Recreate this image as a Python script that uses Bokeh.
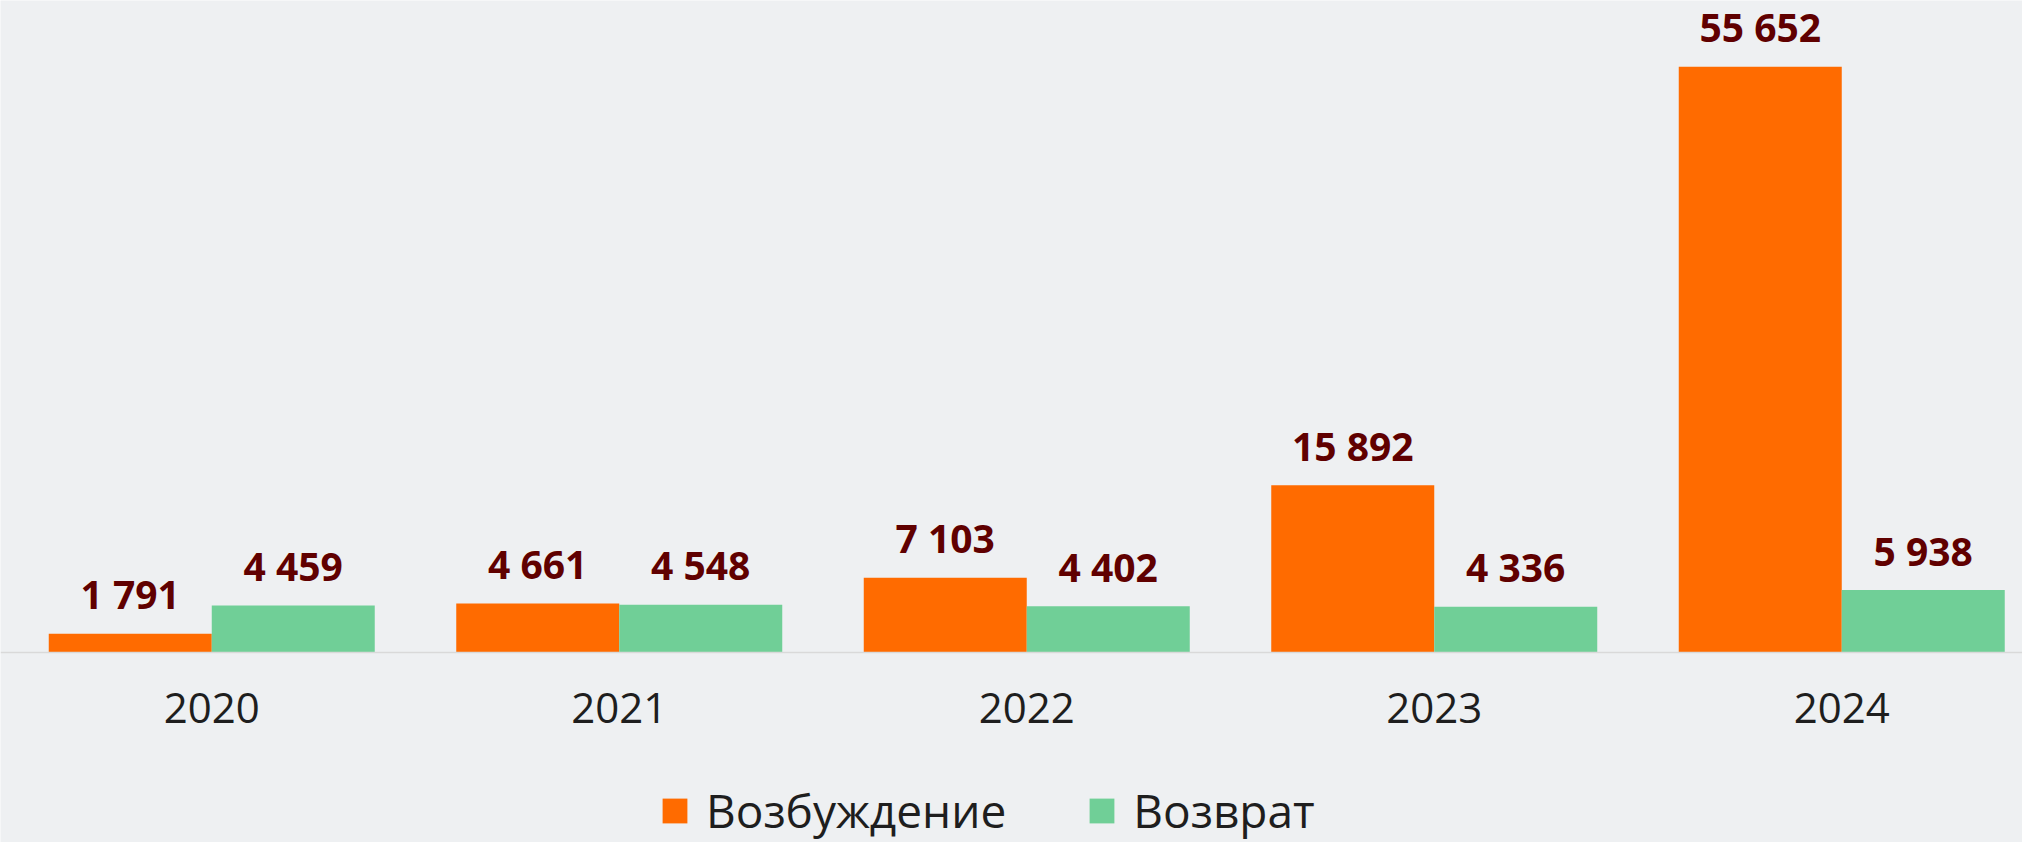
from bokeh.plotting import figure
from bokeh.models import ColumnDataSource, Range1d, FixedTicker, Legend, LegendItem
from bokeh.core.properties import value
from bokeh.embed import file_html
from bokeh.resources import INLINE

years = ["2020", "2021", "2022", "2023", "2024"]
vozbuzhdenie = [1791, 4661, 7103, 15892, 55652]
vozvrat = [4459, 4548, 4402, 4336, 5938]
series_names = ["Возбуждение", "Возврат"]

ORANGE = "#FF6B00"
GREEN = "#70CF97"
LABEL = "#600000"
BG = "#EEF0F2"

def fmt(v):
    return f"{v:,}".replace(",", " ")

centers = [i + 0.5 for i in range(len(years))]
bw = 0.4

src_a = ColumnDataSource(dict(x=[c - bw / 2 for c in centers], top=vozbuzhdenie,
                              lbl=[fmt(v) for v in vozbuzhdenie]))
src_b = ColumnDataSource(dict(x=[c + bw / 2 for c in centers], top=vozvrat,
                              lbl=[fmt(v) for v in vozvrat]))

W, H = 2022, 842
base_px = 652
cat_px = 407.5
x0_px = 7.5
px_per_unit = 585.7 / 55652.0
y_top = base_px / px_per_unit
y_bot = -(H - base_px) / px_per_unit

p = figure(width=W, height=H, output_backend="svg", toolbar_location=None,
           x_range=Range1d(-x0_px / cat_px, (W - x0_px) / cat_px),
           y_range=Range1d(y_bot, y_top),
           min_border=0, outline_line_color=None,
           background_fill_color=BG, border_fill_color=BG)

p.yaxis.visible = False
p.grid.visible = False

ra = p.vbar(x="x", top="top", bottom=0, width=bw, source=src_a, fill_color=ORANGE, line_color=None)
rb = p.vbar(x="x", top="top", bottom=0, width=bw, source=src_b, fill_color=GREEN, line_color=None)

for src in (src_a, src_b):
    p.text(x="x", y="top", text="lbl", source=src, text_align="center",
           text_baseline="alphabetic", y_offset=-40,
           text_font=value("Open Sans"), text_font_style="bold",
           text_font_size="39px", text_color=LABEL)

ax = p.xaxis[0]
ax.fixed_location = 0
ax.ticker = FixedTicker(ticks=centers)
ax.major_label_overrides = {c: y for c, y in zip(centers, years)}
ax.major_tick_in = 0
ax.major_tick_out = 0
ax.minor_tick_in = 0
ax.minor_tick_out = 0
ax.axis_line_color = "#D9D9D9"
ax.axis_line_width = 1.5
ax.major_label_standoff = 40
ax.major_label_text_font = "Open Sans"
ax.major_label_text_font_size = "42px"
ax.major_label_text_color = "#1E1E1E"

legend = Legend(items=[LegendItem(label=series_names[0], renderers=[ra]),
                       LegendItem(label=series_names[1], renderers=[rb])],
                orientation="horizontal", location=(659, 1),
                glyph_width=31, glyph_height=31, label_standoff=16, spacing=80,
                padding=0, margin=0, border_line_alpha=0, background_fill_alpha=0,
                label_text_font="Open Sans", label_text_font_size="46px",
                label_text_color="#1E1E1E")
p.add_layout(legend)

open("out.html", "w").write(file_html(p, INLINE))
